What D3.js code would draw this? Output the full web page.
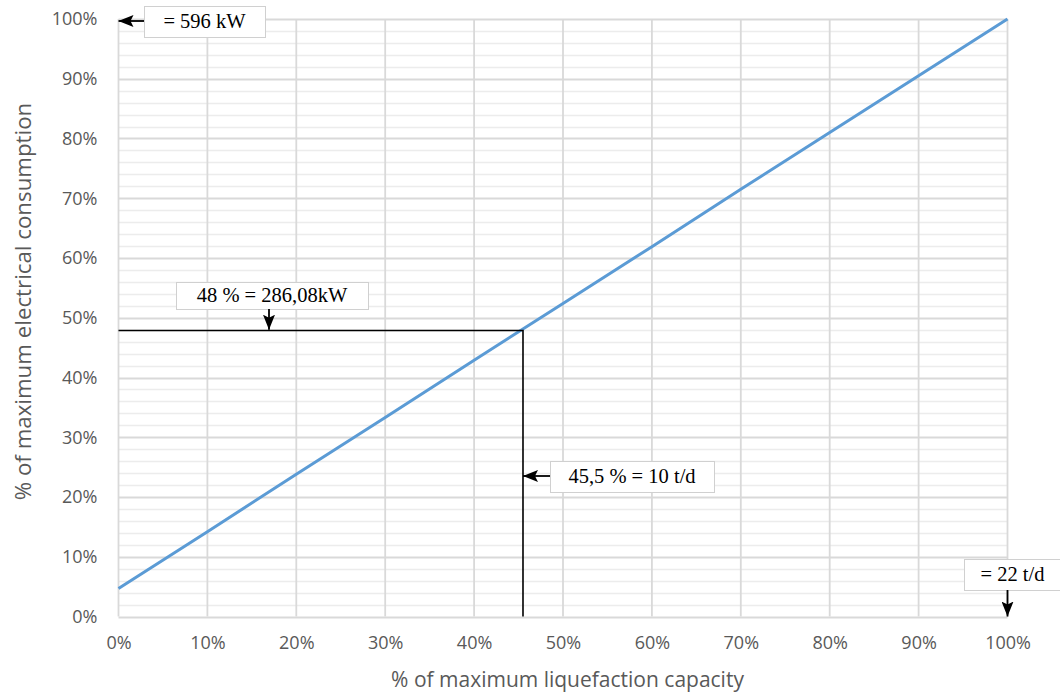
<!DOCTYPE html>
<html><head><meta charset="utf-8">
<script src="https://cdn.jsdelivr.net/npm/d3@7"></script>
<style>body{margin:0;background:#fff}svg{display:block}</style>
</head><body>
<svg id="c" width="1060" height="694"></svg>
<script>
const capacity = [0,10,20,30,40,50,60,70,80,90,100];
const consumption = [4.7,14.2,23.8,33.3,42.9,52.4,61.9,71.5,81.0,90.5,100];
const xTicks = [0,10,20,30,40,50,60,70,80,90,100];
const yTicks = [0,10,20,30,40,50,60,70,80,90,100];
const yMinor = d3.range(0,101,2);
const operatingPoint = {x:45.5, y:48};
const labelOpY = "48 % = 286,08kW";
const labelOpX = "45,5 % = 10 t/d";
const labelMaxY = "= 596 kW";
const labelMaxX = "= 22 t/d";
const xTitle = "% of maximum liquefaction capacity";
const yTitle = "% of maximum electrical consumption";

const svg = d3.select("#c");
const L=118.5, R=1007.5, T=19, B=616.5;
const x = d3.scaleLinear().domain([0,100]).range([L,R]);
const y = d3.scaleLinear().domain([0,100]).range([B,T]);

svg.append("defs").append("marker").attr("id","ah").attr("viewBox","0 0 15 12")
  .attr("refX",15).attr("refY",6).attr("markerWidth",15).attr("markerHeight",12)
  .attr("markerUnits","userSpaceOnUse").attr("orient","auto")
  .append("path").attr("d","M0,0L15,6L0,12L3,6z").attr("fill","#000");

const g = svg.append("g");
g.selectAll(".mn").data(yMinor.filter(d=>d%10)).enter().append("line")
  .attr("x1",L).attr("x2",R).attr("y1",d=>Math.round(y(d))+0.5).attr("y2",d=>Math.round(y(d))+0.5)
  .attr("stroke","#ececec").attr("stroke-width",1.5);
g.selectAll(".mjy").data(yTicks).enter().append("line")
  .attr("x1",L).attr("x2",R).attr("y1",d=>Math.round(y(d))+0.5).attr("y2",d=>Math.round(y(d))+0.5)
  .attr("stroke","#d9d9d9").attr("stroke-width",1.8);
g.selectAll(".mjx").data(xTicks).enter().append("line")
  .attr("y1",T).attr("y2",B).attr("x1",d=>x(d)).attr("x2",d=>x(d))
  .attr("stroke","#d9d9d9").attr("stroke-width",1.8);

const tickFont = "'Open Sans', 'DejaVu Sans', sans-serif";
const xAxis = svg.append("g").attr("transform",`translate(0,${B})`)
  .call(d3.axisBottom(x).tickValues(xTicks).tickFormat(d=>d+"%").tickSize(0).tickPadding(20));
const yAxis = svg.append("g").attr("transform",`translate(${L},0)`)
  .call(d3.axisLeft(y).tickValues(yTicks).tickFormat(d=>d+"%").tickSize(0).tickPadding(21));
[xAxis,yAxis].forEach(a=>{a.select(".domain").remove();
  a.selectAll("text").attr("fill","#595959").style("font-family",tickFont).style("font-size","18px");});

svg.append("text").attr("x",567.5).attr("y",687).attr("text-anchor","middle")
  .attr("fill","#595959").style("font-family",tickFont).style("font-size","21px").text(xTitle);
svg.append("text").attr("transform",`translate(31,301.5) rotate(-90)`).attr("text-anchor","middle")
  .attr("fill","#595959").style("font-family",tickFont).style("font-size","22.3px").text(yTitle);

svg.append("path").datum(capacity.map((c,i)=>[c,consumption[i]]))
  .attr("d",d3.line().x(d=>x(d[0])).y(d=>y(d[1])))
  .attr("fill","none").attr("stroke","#5b9bd5").attr("stroke-width",3);

// operating point guide lines
svg.append("path").attr("d",`M${x(0)},${Math.round(y(operatingPoint.y))+0.5}H${x(operatingPoint.x)}V${B}`)
  .attr("fill","none").attr("stroke","#000").attr("stroke-width",1.6);

function box(x0,y0,w,h,txt){
  svg.append("rect").attr("x",x0+0.5).attr("y",y0+0.5).attr("width",w).attr("height",h)
    .attr("fill","#fff").attr("stroke","#d0d0d0").attr("stroke-width",1);
  svg.append("text").attr("x",x0+w/2).attr("y",y0+h/2+6.7).attr("text-anchor","middle")
    .style("font-family","'Liberation Serif','Times New Roman',serif").style("font-size","20.5px")
    .attr("fill","#000").text(txt);
}
function arrow(x1,y1,x2,y2){
  svg.append("line").attr("x1",x1).attr("y1",y1).attr("x2",x2).attr("y2",y2)
    .attr("stroke","#000").attr("stroke-width",1.8).attr("marker-end","url(#ah)");
}
box(144,6,121,31,labelMaxY);
arrow(144,21,x(0),21);
box(176,282,192,27,labelOpY);
arrow(269,309,269,y(operatingPoint.y));
box(550,461,164,31,labelOpX);
arrow(550,476,x(operatingPoint.x),476);
box(964,559,97,31,labelMaxX);
arrow(x(100),590,x(100),B);
</script>
</body></html>
